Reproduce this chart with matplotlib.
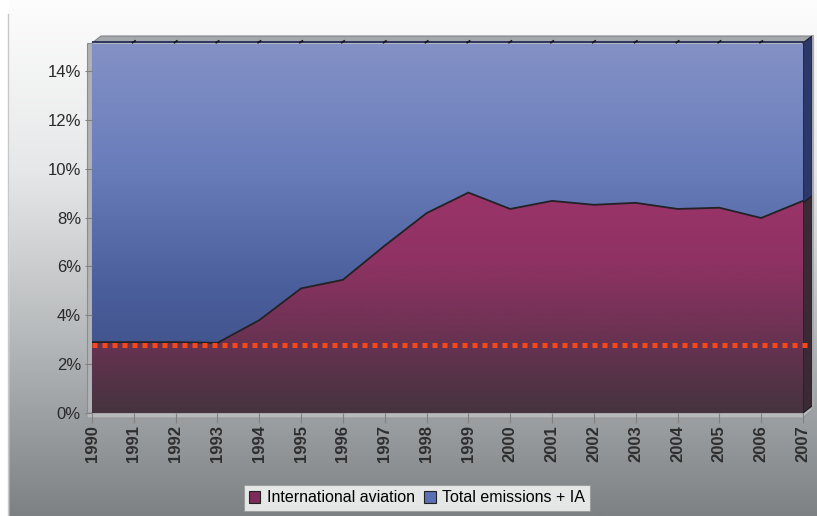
import numpy as np
import matplotlib.pyplot as plt
from matplotlib.colors import LinearSegmentedColormap
from matplotlib.patches import Polygon, Rectangle

plt.rcParams['font.family'] = ['Liberation Sans', 'DejaVu Sans']

# share of international aviation in total emissions (%)
years = list(range(1990, 2008))
aviation = [2.9, 2.9, 2.9, 2.87, 3.8, 5.1, 5.45, 6.85, 8.18, 9.02,
            8.35, 8.68, 8.52, 8.6, 8.35, 8.4, 7.98, 8.68]
total = [100.0] * len(years)
baseline = 2.8
ytick_vals = [0, 2, 4, 6, 8, 10, 12, 14]
ytick_labels = ['0%', '2%', '4%', '6%', '8%', '10%', '12%', '14%']
series_names = ['International aviation', 'Total emissions + IA']

W, H = 817, 516
fig = plt.figure(figsize=(W / 100, H / 100), dpi=100)

# grey backdrop with pixel coordinates for the 3D frame bits
bg = fig.add_axes([0, 0, 1, 1], zorder=-1)
bg.set_xlim(0, W)
bg.set_ylim(H, 0)
bg.axis('off')
back = LinearSegmentedColormap.from_list('back', ['#fdfdfd', '#e6e7e8', '#b4b7b9', '#7d8184'])
bg.imshow(np.linspace(0, 1, 256)[:, None], cmap=back, extent=[8, W, H, 0], aspect='auto')
bg.add_patch(Rectangle((0, 0), 8, H, color='white', zorder=2))
bg.plot([8, 8], [14, H], color='#c8c8c8', lw=1, zorder=3)

# top rim, left wall, floor and right side of the block
bg.add_patch(Polygon([(92, 43), (803, 43), (812, 36), (101, 36)], closed=True,
                     fc='#a4a8ac', ec='#80848a', lw=0.8, zorder=3))
bg.plot([93, 803], [41.8, 41.8], color='#2c3660', lw=1.4, zorder=4)
for i in range(1, 17):
    xp = 92 + i * 711 / 17
    bg.plot([xp - 1.2, xp + 1.2], [42.6, 41.0], color='#15151c', lw=1.3, zorder=4)
bg.add_patch(Rectangle((87, 43), 5, 370, fc='#b0b2b4', ec='#8a8c90', lw=0.8, zorder=3))
bg.add_patch(Polygon([(87, 413), (803, 413), (812, 406), (812, 410), (803, 418), (87, 418)],
                     closed=True, fc='#b6b8ba', ec='#909296', lw=0.6, zorder=3))
bg.add_patch(Polygon([(803, 43), (812, 36), (812, 196), (803, 203)], closed=True,
                     fc='#2c3868', ec='#1c2030', lw=0.8, zorder=3))
bg.add_patch(Polygon([(803, 203), (812, 196), (812, 406), (803, 413)], closed=True,
                     fc='#3a2a36', ec='#1c1c20', lw=0.8, zorder=3))
bg.plot([813.5, 813.5], [36, 408], color='#a8aaae', lw=1.5, zorder=3)

ax = fig.add_axes([92 / W, 103 / H, 711 / W, 369 / H])
ymax = 15.1
ax.set_xlim(years[0], years[-1])
ax.set_ylim(0, ymax)

blue = LinearSegmentedColormap.from_list('blue', ['#3b4a7e', '#4a5e9c', '#6a7dbb', '#8391c6'])
purple = LinearSegmentedColormap.from_list('purple', ['#45343f', '#6a3252', '#8e3263', '#9c3469'])

tot_fill = ax.fill_between(years, 0, total, color='none', lw=0)
img = ax.imshow(np.linspace(1, 0, 256)[:, None], cmap=blue, aspect='auto',
                extent=[years[0], years[-1], 0, ymax], zorder=1)
img.set_clip_path(tot_fill.get_paths()[0], transform=ax.transData)

ia_fill = ax.fill_between(years, 0, aviation, color='none', lw=0)
img2 = ax.imshow(np.linspace(1, 0, 256)[:, None], cmap=purple, aspect='auto',
                 extent=[years[0], years[-1], 0, 9.2], zorder=2)
img2.set_clip_path(ia_fill.get_paths()[0], transform=ax.transData)
ax.plot(years, aviation, color='#222226', lw=1.3, zorder=3)

ax.plot([years[0], years[-1] + 0.22], [baseline, baseline], color='#f4481c', lw=3.6,
        dashes=(1, 1), dash_capstyle='butt', clip_on=False, zorder=5)

for s in ax.spines.values():
    s.set_visible(False)
ax.set_yticks(ytick_vals)
ax.set_yticklabels(ytick_labels, fontsize=12, color='#2a2a2a')
ax.set_xticks(years)
ax.set_xticklabels([str(y) for y in years], rotation=90, fontsize=12,
                   fontweight='bold', color='#2e2e2e')
ax.tick_params(axis='y', length=5, color='#808080', pad=3)
ax.tick_params(axis='x', length=7, color='#808080', pad=2)

# legend swatches
handles = [Rectangle((0, 0), 1, 1, fc='#7c2c58', ec='#222222', lw=0.8),
           Rectangle((0, 0), 1, 1, fc='#5b70b4', ec='#222222', lw=0.8)]
leg = fig.legend(handles, series_names, loc='center', bbox_to_anchor=(417 / W, 1 - 498 / H),
                 ncol=2, fontsize=11.5, frameon=True, fancybox=False, handlelength=0.7,
                 handleheight=0.7, handletextpad=0.4, columnspacing=0.6,
                 borderpad=0.35)
leg.get_frame().set_edgecolor('#999999')
leg.get_frame().set_linewidth(0.8)

fig.savefig('out.png', dpi=100)
